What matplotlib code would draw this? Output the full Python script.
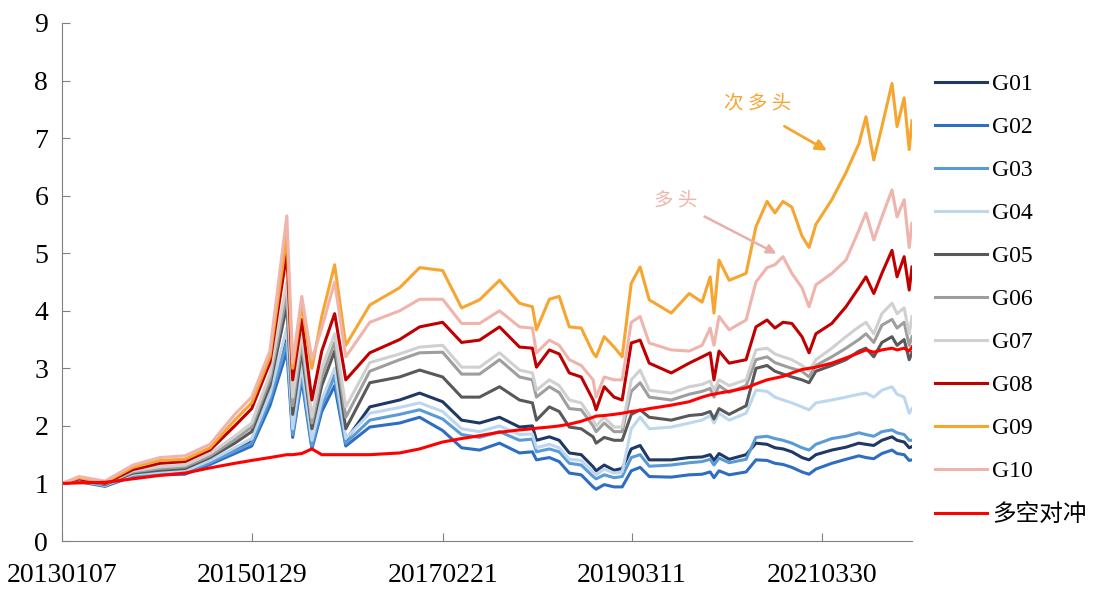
import pandas as pd
import matplotlib.pyplot as plt
import matplotlib.dates as mdates

dates = pd.to_datetime([
    "2013-01-07", "2013-03-15", "2013-06-26", "2013-10-14", "2014-01-29", "2014-05-08",
    "2014-08-15", "2014-11-21", "2015-01-27", "2015-04-09", "2015-06-15", "2015-07-08",
    "2015-08-13", "2015-09-22", "2015-10-31", "2015-12-21", "2016-02-03", "2016-05-08",
    "2016-09-03", "2016-11-21", "2017-02-20", "2017-05-06", "2017-07-16", "2017-10-03",
    "2017-12-21", "2018-02-10", "2018-02-26", "2018-04-18", "2018-05-27", "2018-07-06",
    "2018-08-22", "2018-10-08", "2018-10-20", "2018-11-21", "2018-12-30", "2019-01-31",
    "2019-03-08", "2019-04-12", "2019-05-18", "2019-08-13", "2019-10-23", "2019-12-13",
    "2020-01-14", "2020-01-29", "2020-02-18", "2020-03-29", "2020-06-04", "2020-07-13",
    "2020-08-26", "2020-09-26", "2020-10-28", "2020-12-02", "2021-01-11", "2021-02-08",
    "2021-03-07", "2021-05-09", "2021-07-04", "2021-08-24", "2021-09-21", "2021-10-22",
    "2021-11-23", "2022-01-02", "2022-01-22", "2022-02-19", "2022-03-11", "2022-03-22",
])

g01 = [1.00, 1.05, 0.96, 1.15, 1.18, 1.20, 1.38, 1.60, 1.75, 2.50, 3.50, 1.90,
       3.00, 1.70, 2.40, 2.95, 1.75, 2.33, 2.45, 2.57, 2.42, 2.10, 2.05, 2.15,
       1.98, 2.00, 1.75, 1.81, 1.75, 1.53, 1.50, 1.29, 1.22, 1.32, 1.23, 1.26,
       1.60, 1.66, 1.41, 1.41, 1.45, 1.46, 1.50, 1.40, 1.52, 1.42, 1.50, 1.70,
       1.68, 1.62, 1.60, 1.55, 1.45, 1.41, 1.50, 1.58, 1.63, 1.70, 1.68, 1.66,
       1.75, 1.81, 1.75, 1.72, 1.62, 1.64]
g02 = [1.00, 1.03, 0.95, 1.12, 1.15, 1.16, 1.33, 1.52, 1.65, 2.35, 3.30, 1.80,
       2.80, 1.60, 2.25, 2.70, 1.65, 1.98, 2.05, 2.15, 1.92, 1.62, 1.58, 1.70,
       1.53, 1.55, 1.41, 1.45, 1.38, 1.18, 1.15, 0.94, 0.90, 0.98, 0.94, 0.94,
       1.22, 1.28, 1.12, 1.11, 1.15, 1.16, 1.20, 1.10, 1.22, 1.15, 1.20, 1.41,
       1.40, 1.35, 1.33, 1.28, 1.20, 1.16, 1.25, 1.35, 1.42, 1.48, 1.45, 1.43,
       1.52, 1.58, 1.52, 1.50, 1.40, 1.41]
g03 = [1.00, 1.04, 0.96, 1.14, 1.17, 1.19, 1.36, 1.56, 1.70, 2.45, 3.45, 1.85,
       2.90, 1.65, 2.35, 2.85, 1.70, 2.10, 2.20, 2.28, 2.12, 1.85, 1.80, 1.90,
       1.75, 1.77, 1.55, 1.60, 1.55, 1.35, 1.32, 1.12, 1.08, 1.15, 1.10, 1.12,
       1.45, 1.50, 1.30, 1.32, 1.36, 1.38, 1.42, 1.32, 1.44, 1.36, 1.42, 1.80,
       1.82, 1.78, 1.75, 1.70, 1.62, 1.58, 1.68, 1.78, 1.82, 1.88, 1.85, 1.82,
       1.90, 1.93, 1.88, 1.85, 1.75, 1.75]
g04 = [1.00, 1.05, 0.97, 1.16, 1.20, 1.22, 1.40, 1.62, 1.78, 2.55, 3.70, 1.95,
       3.05, 1.75, 2.45, 3.00, 1.78, 2.22, 2.32, 2.40, 2.25, 1.95, 1.90, 2.00,
       1.85, 1.86, 1.62, 1.68, 1.62, 1.42, 1.40, 1.20, 1.15, 1.25, 1.18, 1.20,
       1.95, 2.15, 1.95, 1.98, 2.05, 2.10, 2.18, 2.05, 2.22, 2.10, 2.22, 2.62,
       2.60, 2.50, 2.45, 2.40, 2.33, 2.28, 2.40, 2.45, 2.50, 2.55, 2.57, 2.50,
       2.62, 2.68, 2.55, 2.50, 2.22, 2.30]
g05 = [1.00, 1.06, 0.98, 1.18, 1.23, 1.26, 1.45, 1.70, 1.90, 2.70, 4.10, 2.20,
       3.30, 1.95, 2.70, 3.30, 1.95, 2.75, 2.85, 2.97, 2.85, 2.50, 2.50, 2.68,
       2.45, 2.40, 2.10, 2.33, 2.25, 1.98, 1.95, 1.81, 1.70, 1.80, 1.75, 1.75,
       2.20, 2.28, 2.15, 2.10, 2.18, 2.20, 2.25, 2.12, 2.30, 2.20, 2.35, 3.00,
       3.05, 2.95, 2.90, 2.85, 2.80, 2.75, 2.95, 3.05, 3.15, 3.30, 3.35, 3.20,
       3.45, 3.55, 3.40, 3.50, 3.15, 3.27]
g06 = [1.00, 1.07, 0.99, 1.20, 1.26, 1.29, 1.48, 1.76, 1.98, 2.80, 4.30, 2.35,
       3.45, 2.05, 2.85, 3.45, 2.15, 2.95, 3.15, 3.27, 3.28, 2.90, 2.90, 3.15,
       2.85, 2.80, 2.50, 2.68, 2.58, 2.30, 2.28, 2.00, 1.90, 2.05, 1.90, 1.90,
       2.60, 2.75, 2.50, 2.45, 2.55, 2.60, 2.65, 2.50, 2.70, 2.58, 2.70, 3.15,
       3.20, 3.10, 3.05, 3.00, 2.95, 2.85, 3.05, 3.20, 3.35, 3.50, 3.60, 3.45,
       3.75, 3.85, 3.70, 3.80, 3.40, 3.55]
g07 = [1.00, 1.08, 1.00, 1.22, 1.29, 1.32, 1.52, 1.82, 2.05, 2.90, 4.50, 2.50,
       3.60, 2.15, 3.00, 3.60, 2.33, 3.10, 3.25, 3.37, 3.40, 3.02, 3.02, 3.27,
       2.97, 2.92, 2.62, 2.80, 2.70, 2.45, 2.40, 2.10, 2.00, 2.15, 1.98, 1.98,
       2.80, 2.97, 2.62, 2.57, 2.68, 2.72, 2.78, 2.62, 2.80, 2.70, 2.80, 3.32,
       3.35, 3.25, 3.20, 3.15, 3.05, 2.95, 3.15, 3.35, 3.55, 3.72, 3.80, 3.60,
       3.95, 4.13, 3.95, 4.05, 3.60, 3.90]
g08 = [1.00, 1.08, 1.00, 1.24, 1.35, 1.38, 1.58, 2.00, 2.30, 3.10, 5.00, 2.80,
       3.85, 2.45, 3.30, 3.95, 2.80, 3.27, 3.50, 3.72, 3.80, 3.45, 3.49, 3.72,
       3.37, 3.35, 3.02, 3.32, 3.25, 2.92, 2.85, 2.45, 2.28, 2.68, 2.50, 2.45,
       3.44, 3.49, 3.09, 2.92, 3.09, 3.20, 3.27, 2.80, 3.30, 3.09, 3.15, 3.72,
       3.84, 3.70, 3.80, 3.78, 3.55, 3.27, 3.60, 3.78, 4.07, 4.40, 4.59, 4.30,
       4.65, 5.05, 4.59, 4.94, 4.36, 4.76]
g09 = [1.00, 1.10, 1.02, 1.28, 1.40, 1.42, 1.62, 2.10, 2.40, 3.20, 5.30, 3.00,
       4.10, 3.00, 3.90, 4.80, 3.40, 4.10, 4.40, 4.75, 4.70, 4.05, 4.19, 4.53,
       4.13, 4.07, 3.67, 4.20, 4.25, 3.72, 3.70, 3.27, 3.20, 3.55, 3.37, 3.20,
       4.48, 4.76, 4.19, 3.96, 4.30, 4.15, 4.59, 3.96, 4.88, 4.53, 4.65, 5.46,
       5.90, 5.70, 5.90, 5.80, 5.30, 5.10, 5.50, 5.93, 6.40, 6.90, 7.37, 6.62,
       7.20, 7.95, 7.20, 7.70, 6.80, 7.30]
g10 = [1.00, 1.12, 1.04, 1.32, 1.45, 1.48, 1.68, 2.20, 2.50, 3.30, 5.65, 3.10,
       4.25, 3.15, 3.70, 4.50, 3.20, 3.80, 4.00, 4.20, 4.20, 3.78, 3.78, 4.00,
       3.72, 3.70, 3.27, 3.49, 3.40, 3.15, 3.05, 2.80, 2.50, 2.85, 2.80, 2.80,
       3.80, 3.90, 3.44, 3.32, 3.30, 3.40, 3.70, 3.40, 3.90, 3.67, 3.84, 4.50,
       4.75, 4.80, 4.94, 4.65, 4.40, 4.07, 4.45, 4.65, 4.88, 5.40, 5.70, 5.23,
       5.63, 6.10, 5.63, 5.93, 5.10, 5.52]
hedge = [1.00, 1.01, 1.02, 1.08, 1.14, 1.18, 1.27, 1.35, 1.40, 1.45, 1.50, 1.50,
         1.52, 1.60, 1.50, 1.50, 1.50, 1.50, 1.53, 1.60, 1.72, 1.78, 1.83, 1.89,
         1.93, 1.95, 1.96, 1.98, 2.00, 2.03, 2.08, 2.15, 2.17, 2.18, 2.20, 2.22,
         2.25, 2.27, 2.30, 2.36, 2.42, 2.50, 2.54, 2.55, 2.57, 2.60, 2.66, 2.73,
         2.80, 2.83, 2.86, 2.92, 2.98, 3.00, 3.02, 3.09, 3.18, 3.27, 3.32, 3.28,
         3.32, 3.35, 3.32, 3.35, 3.30, 3.37]

names = ["G01", "G02", "G03", "G04", "G05", "G06", "G07", "G08", "G09", "G10", "多空对冲"]
colors = ["#1F3864", "#2E6EC2", "#5B9BD5", "#BDD7EE", "#595959", "#9E9E9E",
          "#D0D0D0", "#C00000", "#F7A531", "#EFB4AC", "#FF0000"]
series = [g01, g02, g03, g04, g05, g06, g07, g08, g09, g10, hedge]

tick_dates = pd.to_datetime(["2013-01-07", "2015-01-29", "2017-02-21", "2019-03-11", "2021-03-30"])

serif = ["Liberation Serif", "Noto Sans CJK SC"]

fig = plt.figure(figsize=(11.1, 5.94), dpi=100)
ax = fig.add_axes([0.0559, 0.0892, 0.7657, 0.8721])

for name, c, s in zip(names, colors, series):
    ax.plot(dates, s, color=c, lw=2.2, label=name)

ax.set_ylim(0, 9)
ax.set_xlim(pd.Timestamp("2013-01-07"), pd.Timestamp("2022-03-22"))
ax.set_yticks(range(10))
ax.set_xticks(tick_dates)
ax.xaxis.set_major_formatter(mdates.DateFormatter("%Y%m%d"))
ax.tick_params(direction="in", length=6, color="#808080", labelsize=20, pad=10)
ax.tick_params(axis="x", pad=16)
for lab in ax.get_xticklabels() + ax.get_yticklabels():
    lab.set_fontfamily(serif)
for sp in ["top", "right"]:
    ax.spines[sp].set_visible(False)
for sp in ["left", "bottom"]:
    ax.spines[sp].set_color("#808080")

# annotations
ax.text(pd.Timestamp("2020-07-21"), 7.61, "次 多 头", color="#F7A531", fontsize=14,
        family=["Noto Sans CJK SC"], ha="center", va="center")
ax.annotate("", xy=(pd.Timestamp("2021-04-29"), 6.76), xytext=(pd.Timestamp("2020-10-24"), 7.23),
            arrowprops=dict(arrowstyle="-|>", color="#F7A531", lw=2, mutation_scale=16))
ax.text(pd.Timestamp("2019-09-01"), 5.93, "多 头", color="#EFB4AC", fontsize=14,
        family=["Noto Sans CJK SC"], ha="center", va="center")
ax.annotate("", xy=(pd.Timestamp("2020-10-12"), 4.97), xytext=(pd.Timestamp("2019-12-13"), 5.66),
            arrowprops=dict(arrowstyle="-|>", color="#E8B0AA", lw=1.8, mutation_scale=14))

leg = fig.legend(loc="upper left", bbox_to_anchor=(0.842, 0.876), frameon=False,
                 prop={"family": serif, "size": 17}, handlelength=2.2, handletextpad=0.25,
                 labelspacing=0.91, borderpad=0, borderaxespad=0)

fig.savefig("out.png", dpi=100)
